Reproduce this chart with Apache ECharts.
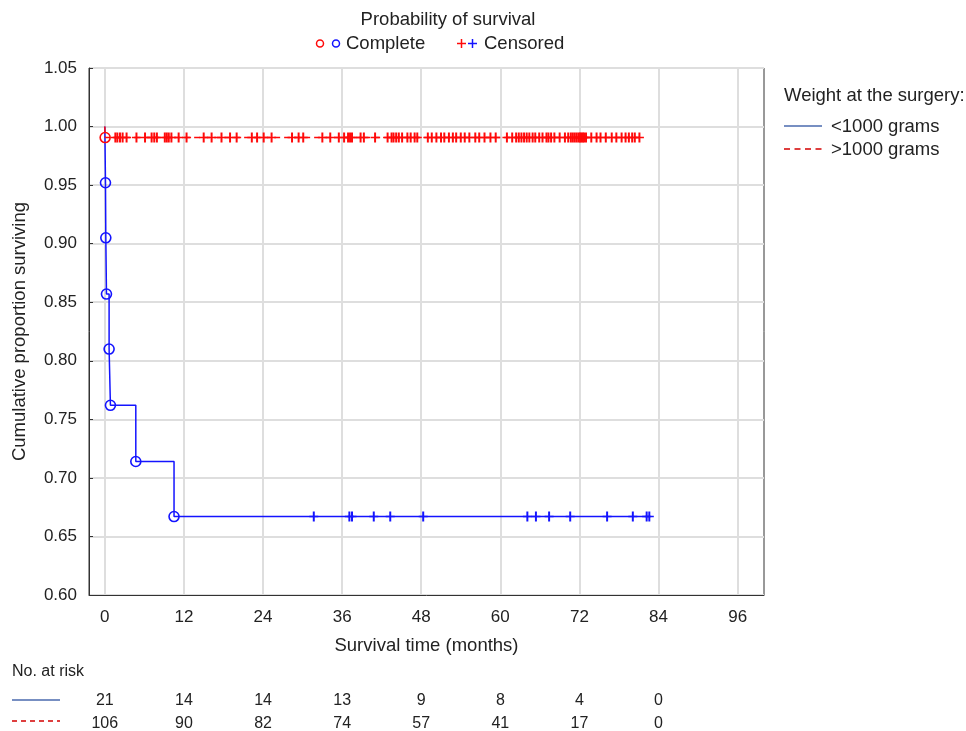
<!DOCTYPE html>
<html>
<head>
<meta charset="utf-8">
<script src="https://cdn.jsdelivr.net/npm/echarts@6/dist/echarts.min.js"></script>
<style>html,body{margin:0;padding:0;background:#fff;}#c{width:966px;height:731px;}</style>
</head>
<body>
<div id="c"></div>
<script>
// ---- data ----
const xTicks = [0, 12, 24, 36, 48, 60, 72, 84, 96];
const riskTimes = [0, 12, 24, 36, 48, 60, 72, 84];
const riskLow = [21, 14, 14, 13, 9, 8, 4, 0];
const riskHigh = [106, 90, 82, 74, 57, 41, 17, 0];
const riskRows = ['<1000 grams', '>1000 grams'];

// <1000 grams: Kaplan-Meier steps
const lowTimes = [0, 0.1, 0.15, 0.25, 0.65, 0.85, 4.7, 10.5, 82.6];
const lowSurv = [1, 0.952, 0.905, 0.857, 0.810, 0.762, 0.714, 0.667, 0.667];
const lowEventTimes = [0.1, 0.15, 0.25, 0.65, 0.85, 4.7, 10.5];
const lowEventSurv = [0.952, 0.905, 0.857, 0.810, 0.762, 0.714, 0.667];
const lowCensored = [31.7, 37.1, 37.5, 40.8, 43.3, 48.3, 64.1, 65.4, 67.4, 70.6, 76.2, 80.1, 82.2, 82.6];
const lowCensLevel = 0.667;

// >1000 grams
const highTimes = [0, 0.05, 81.1];
const highSurv = [1, 0.9906, 0.9906];
const highEventTimes = [0.05];
const highEventSurv = [0.9906];
const highCensLevel = 0.9906;
const highCensored = [
  1.6, 1.9, 2.3, 2.7, 3.3, 4.8, 6.1, 7.1, 7.5, 7.9, 9.1, 9.4, 9.7, 10.1, 11.2,
  12.4, 15.0, 16.2, 17.7, 19.0, 20.0, 22.3, 23.1,
  24.1, 25.3, 28.4, 29.4, 30.1, 33.0, 34.2, 35.5,
  36.3, 36.9, 37.2, 37.5, 38.8, 39.3, 41.0, 42.9, 43.5, 43.8, 44.2, 44.6, 45.1, 45.9, 46.4, 47.0, 47.4,
  49.0, 49.6, 50.3, 51.0, 51.5, 52.2, 52.8, 53.3, 54.0, 54.6, 55.3, 56.2, 56.8, 57.6, 58.5, 59.3,
  61.0, 61.8, 62.4, 62.8, 63.2, 63.6, 64.0, 64.4, 64.9, 65.3, 65.9, 66.4, 67.0, 67.3, 67.7, 68.2, 69.0, 69.8, 70.3, 70.7, 71.0, 71.3, 71.6, 71.9,
  72.1, 72.3, 72.5, 72.7, 73.0, 73.8, 74.6, 75.2, 76.0, 76.9, 77.6, 78.4, 79.0, 79.5, 80.0, 80.4, 81.1
];

// ---- styles ----
const BLUE = '#1414ff';
const RED = '#ff0a0a';
const LEG_BLUE = '#4a6aae';
const LEG_RED = '#d40000';
const TXT = '#222';
const FONT = '"Liberation Sans", Arial, sans-serif';
const PLUS = 'path://M3.9,0H6.1V10H3.9Z M0,4.3H10V5.7H0Z';
const F_BIG = 18.5;

const zip = (a, b) => a.map((v, i) => [v, b[i]]);

const chart = echarts.init(document.getElementById('c'));
const L = 89, R = 202, T = 68, B = 136;

chart.setOption({
  animation: false,
  textStyle: { fontFamily: FONT, color: TXT },
  grid: [
    { left: L, right: R, top: T, bottom: B, show: true, borderColor: '#333', borderWidth: 1, outerBoundsMode: 'none', containLabel: false },
    { left: L, right: R, top: 689, height: 46, show: false, outerBoundsMode: 'none', containLabel: false }
  ],
  xAxis: [
    {
      gridIndex: 0, type: 'value', min: -2.4, max: 100,
      name: 'Survival time (months)', nameLocation: 'middle', nameGap: 41,
      nameTextStyle: { fontSize: F_BIG, color: TXT, fontFamily: FONT },
      axisLine: { show: true, onZero: false, lineStyle: { color: '#333' } },
      axisTick: { show: true, inside: true, length: 4, customValues: xTicks, lineStyle: { color: '#333' } },
      axisLabel: { customValues: xTicks, fontSize: 17, color: TXT, margin: 14, fontFamily: FONT },
      splitLine: { show: false }
    },
    {
      gridIndex: 1, type: 'value', min: -2.4, max: 100, show: false
    }
  ],
  yAxis: [
    {
      gridIndex: 0, type: 'value', min: 0.6, max: 1.05, interval: 0.05,
      name: 'Cumulative proportion surviving', nameLocation: 'middle', nameGap: 60,
      nameTextStyle: { fontSize: F_BIG, color: TXT, fontFamily: FONT },
      axisLine: { show: true, onZero: false, lineStyle: { color: '#333' } },
      axisTick: { show: true, inside: true, length: 4, lineStyle: { color: '#333' } },
      axisLabel: { fontSize: 17, color: TXT, margin: 12, fontFamily: FONT, formatter: v => v.toFixed(2) },
      splitLine: { show: true, lineStyle: { color: '#dedede', width: 2 } }
    },
    {
      gridIndex: 1, type: 'category', data: riskRows, inverse: true, show: false
    }
  ],
  series: [
    { // vertical grid lines at x ticks
      type: 'line', xAxisIndex: 0, yAxisIndex: 0, data: [], silent: true, z: 1,
      markLine: {
        z: 1, silent: true, symbol: 'none', label: { show: false },
        lineStyle: { color: '#dedede', width: 2, type: 'solid' },
        data: xTicks.map(v => ({ xAxis: v }))
      }
    },
    {
      name: '<1000 grams', type: 'line', step: 'end', data: zip(lowTimes, lowSurv),
      showSymbol: false, lineStyle: { color: BLUE, width: 1.5 }, z: 3
    },
    {
      type: 'scatter', data: zip(lowEventTimes, lowEventSurv), symbol: 'circle', symbolSize: 10,
      itemStyle: { color: 'rgba(255,255,255,0)', borderColor: BLUE, borderWidth: 1.6, opacity: 1 }, z: 4
    },
    {
      type: 'scatter', data: lowCensored.map(t => [t, lowCensLevel]), symbol: PLUS, symbolSize: [9, 10],
      itemStyle: { color: BLUE, opacity: 1 }, z: 4
    },
    {
      name: '>1000 grams', type: 'line', step: 'end', data: zip(highTimes, highSurv),
      showSymbol: false, lineStyle: { color: RED, width: 1.5, type: [6, 4] }, z: 5
    },
    {
      type: 'scatter', data: highCensored.map(t => [t, highCensLevel]), symbol: PLUS, symbolSize: [9, 10],
      itemStyle: { color: RED, opacity: 1 }, z: 6
    },
    {
      type: 'scatter', data: zip(highEventTimes, highEventSurv), symbol: 'circle', symbolSize: 10,
      itemStyle: { color: 'rgba(255,255,255,0)', borderColor: RED, borderWidth: 1.6, opacity: 1 }, z: 7
    },
    { // risk table rows
      type: 'scatter', xAxisIndex: 1, yAxisIndex: 1, symbolSize: 0,
      itemStyle: { opacity: 1 },
      data: riskTimes.map((t, i) => [t, riskRows[0], riskLow[i]]),
      label: { show: true, position: 'inside', formatter: p => p.data[2], fontSize: 16, color: TXT, textBorderWidth: 0, fontFamily: FONT }
    },
    {
      type: 'scatter', xAxisIndex: 1, yAxisIndex: 1, symbolSize: 0,
      itemStyle: { opacity: 1 },
      data: riskTimes.map((t, i) => [t, riskRows[1], riskHigh[i]]),
      label: { show: true, position: 'inside', formatter: p => p.data[2], fontSize: 16, color: TXT, textBorderWidth: 0, fontFamily: FONT }
    }
  ],
  graphic: [
    { type: 'text', style: { text: 'Probability of survival', x: 448, y: 20, align: 'center', verticalAlign: 'middle', font: F_BIG + 'px ' + FONT, fill: TXT } },
    { type: 'circle', shape: { cx: 320, cy: 43.5, r: 3.5 }, style: { fill: 'none', stroke: RED, lineWidth: 1.5 } },
    { type: 'circle', shape: { cx: 336, cy: 43.5, r: 3.5 }, style: { fill: 'none', stroke: BLUE, lineWidth: 1.5 } },
    { type: 'text', style: { text: 'Complete', x: 346, y: 44, verticalAlign: 'middle', font: F_BIG + 'px ' + FONT, fill: TXT } },
    { type: 'polyline', shape: { points: [[457, 43.5], [466, 43.5]] }, style: { stroke: RED, lineWidth: 1.5 } },
    { type: 'polyline', shape: { points: [[461.5, 39], [461.5, 48]] }, style: { stroke: RED, lineWidth: 1.5 } },
    { type: 'polyline', shape: { points: [[468, 43.5], [477, 43.5]] }, style: { stroke: BLUE, lineWidth: 1.5 } },
    { type: 'polyline', shape: { points: [[472.5, 39], [472.5, 48]] }, style: { stroke: BLUE, lineWidth: 1.5 } },
    { type: 'text', style: { text: 'Censored', x: 484, y: 44, verticalAlign: 'middle', font: F_BIG + 'px ' + FONT, fill: TXT } },

    { type: 'text', style: { text: 'Weight at the surgery:', x: 784, y: 96, verticalAlign: 'middle', font: F_BIG + 'px ' + FONT, fill: TXT } },
    { type: 'line', shape: { x1: 784, y1: 126, x2: 822, y2: 126 }, style: { stroke: LEG_BLUE, lineWidth: 1.5 } },
    { type: 'text', style: { text: '<1000 grams', x: 831, y: 127, verticalAlign: 'middle', font: F_BIG + 'px ' + FONT, fill: TXT } },
    { type: 'line', shape: { x1: 784, y1: 149, x2: 822, y2: 149 }, style: { stroke: LEG_RED, lineWidth: 1.5, lineDash: [6, 4.5] } },
    { type: 'text', style: { text: '>1000 grams', x: 831, y: 150, verticalAlign: 'middle', font: F_BIG + 'px ' + FONT, fill: TXT } },

    { type: 'text', style: { text: 'No. at risk', x: 12, y: 672, verticalAlign: 'middle', font: '16px ' + FONT, fill: TXT } },
    { type: 'line', shape: { x1: 12, y1: 700, x2: 60, y2: 700 }, style: { stroke: LEG_BLUE, lineWidth: 1.5 } },
    { type: 'line', shape: { x1: 12, y1: 721, x2: 60, y2: 721 }, style: { stroke: LEG_RED, lineWidth: 1.5, lineDash: [5, 4] } }
  ]
});
</script>
</body>
</html>
